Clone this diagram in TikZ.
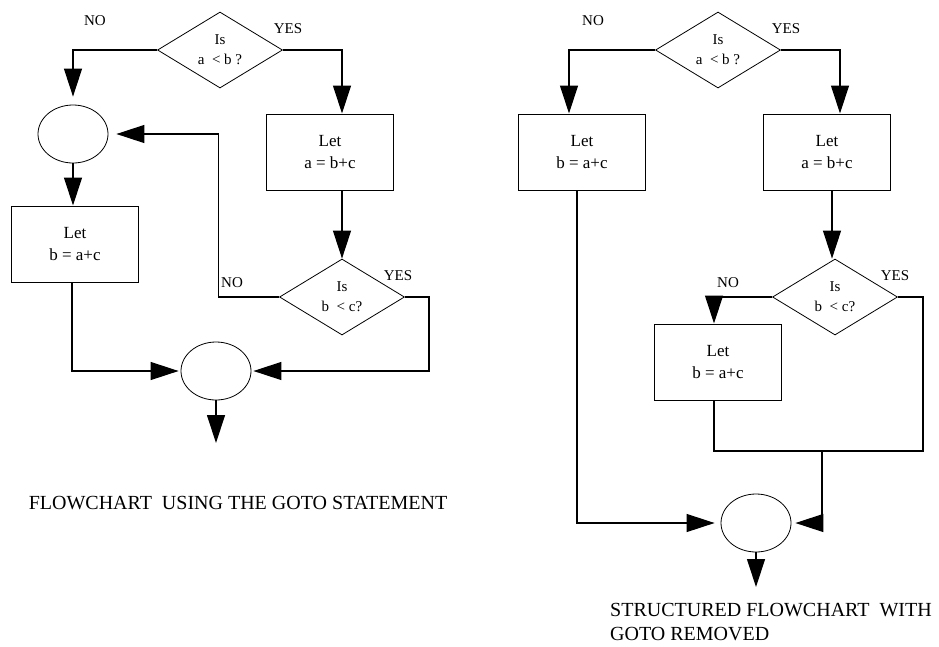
\documentclass[tikz,border=0pt]{standalone}
\usepackage{fontspec}
\setmainfont{Liberation Serif}
\usetikzlibrary{arrows.meta,positioning,calc,shapes.geometric}

\begin{document}
\begin{tikzpicture}[x=1pt, y=-1pt, >={Triangle[length=28pt,width=18pt]}, line join=miter,
  box/.style={draw, line width=1pt, minimum width=127pt, minimum height=76pt, inner sep=0pt, align=center, font=\fontsize{17}{22}\selectfont},
  test/.style={draw, diamond, line width=0.8pt, minimum width=125pt, minimum height=76pt, inner sep=0pt, align=center, font=\fontsize{15}{20}\selectfont},
  junc/.style={draw, ellipse, line width=0.8pt, minimum width=70pt, minimum height=58pt, inner sep=0pt},
  flow/.style={line width=1.2pt},
  lbl/.style={font=\fontsize{15}{16}\selectfont, inner sep=0pt},
  caption/.style={font=\fontsize{20}{24}\selectfont, inner sep=0pt, align=left}]

\useasboundingbox (0,0) rectangle (939,646);

% flowchart with the goto
\node[test] (ltest) at (220,50) {Is\\a \ < b ?};
\node[junc] (lcircA) at (73,134) {};
\node[box] (lletb) at (75,244) {Let\\b = a+c};
\node[box] (lleta) at (330,152) {Let\\a = b+c};
\node[test] (ltestc) at (342,297) {Is\\b \ < c?};
\node[junc] (lcircB) at (216,371) {};
\coordinate (lout) at (216,443);
\node[lbl] (lno) at (95,21) {NO};
\node[lbl] (lyes) at (288,29) {YES};
\node[lbl] (lyesc) at (398,276) {YES};
\node[lbl] (lnoc) at (232,283) {NO};
\node[caption] (lcap) at (238,503) {FLOWCHART \ USING THE GOTO STATEMENT};

\draw[->, flow, shorten >=8pt] (ltest.west) -| (lcircA.north);
\draw[->, flow] (ltest.east) -| ([xshift=12pt]lleta.north);
\draw[->, flow] ([xshift=12pt]lleta.south) -- (ltestc.north);
\draw[->, flow] (lcircA.south) -- (lcircA.south |- lletb.north);
\draw[->, flow, shorten >=8pt] (ltestc.west) -- ++(-61,0) |- (lcircA.east);
\draw[->, flow, shorten >=2pt] (ltestc.east) -- ++(24,0) |- (lcircB.east);
\draw[->, flow, shorten >=2pt] ([xshift=-3pt]lletb.south) |- (lcircB.west);
\draw[->, flow] (lcircB.south) -- (lout);

% structured flowchart
\node[test] (rtest) at (718,50) {Is\\a \ < b ?};
\node[box] (rletb) at (582,152) {Let\\b = a+c};
\node[box] (rleta) at (827,152) {Let\\a = b+c};
\node[test] (rtestc) at (835,297) {Is\\b \ < c?};
\node[box] (rletc) at (718,362) {Let\\b = a+c};
\node[junc] (rcirc) at (756,523) {};
\coordinate (rmerge) at (822,451);
\coordinate (rout) at (756,587);
\node[lbl] (rno) at (593,21) {NO};
\node[lbl] (ryes) at (786,29) {YES};
\node[lbl] (ryesc) at (895,276) {YES};
\node[lbl] (rnoc) at (728,283) {NO};
\node[caption, anchor=north west] (rcap) at (610,603) {STRUCTURED FLOWCHART \ WITH\\GOTO REMOVED};

\draw[->, flow] (rtest.west) -| ([xshift=-13pt]rletb.north);
\draw[->, flow] (rtest.east) -| ([xshift=13pt]rleta.north);
\draw[->, flow] ([xshift=5pt]rleta.south) -- ([xshift=5pt]rleta.south |- rtestc.north);
\draw[->, flow] (rtestc.west) -| ([xshift=-4pt]rletc.north);
\draw[flow] (rtestc.east) -- ++(25,0) |- (rmerge);
\draw[flow] ([xshift=-4pt]rletc.south) |- (rmerge);
\draw[->, flow, shorten >=4pt] (rmerge) |- (rcirc.east);
\draw[->, flow, shorten >=6pt] ([xshift=-5pt]rletb.south) |- (rcirc.west);
\draw[->, flow] (rcirc.south) -- (rout);

\end{tikzpicture}
\end{document}
